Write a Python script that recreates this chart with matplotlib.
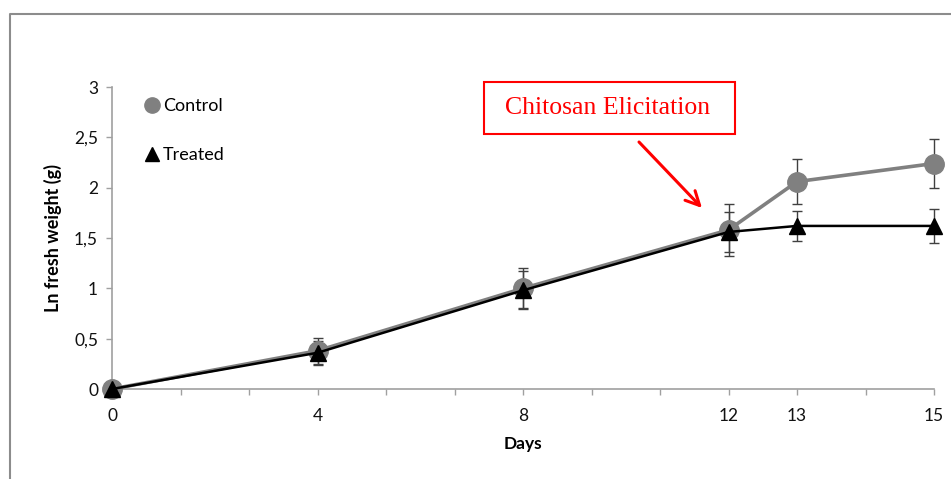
import numpy as np
import matplotlib
matplotlib.use("Agg")
import matplotlib.pyplot as plt
from matplotlib.lines import Line2D
from matplotlib.patches import Rectangle

# ---- data ----
days = [0, 4, 8, 12, 13, 15]
control = [0.0, 0.38, 1.00, 1.58, 2.06, 2.24]
control_err = [0.0, 0.13, 0.20, 0.26, 0.22, 0.24]
treated = [0.0, 0.36, 0.98, 1.56, 1.62, 1.62]
treated_err = [0.0, 0.12, 0.19, 0.20, 0.145, 0.17]
yticks = [0, 0.5, 1, 1.5, 2, 2.5, 3]
ytick_labels = ["0", "0,5", "1", "1,5", "2", "2,5", "3"]

# Axis scale used by the original chart (category-like spacing)
scale_days = [0, 12, 15]
scale_pos = [0, 9, 12]
def to_pos(d):
    return np.interp(d, scale_days, scale_pos)

tick_pos = np.arange(0, 13)
label_for = {float(to_pos(d)): str(d) for d in days}
xtick_labels = [label_for.get(float(p), "") for p in tick_pos]

plt.rcParams['font.family'] = ['Lato', 'DejaVu Sans']

W, H = 951, 479
fig = plt.figure(figsize=(W / 100, H / 100), dpi=100)
ax = fig.add_axes([112 / W, 1 - 389 / H, (934 - 112) / W, (389 - 87) / H])

xc = to_pos(days)
gray = '#808080'

ax.errorbar(xc, control, yerr=control_err, fmt='none', ecolor='#404040',
            elinewidth=1.0, capsize=3.5, capthick=1.0, zorder=3, clip_on=False)
ax.errorbar(xc, treated, yerr=treated_err, fmt='none', ecolor='#404040',
            elinewidth=1.0, capsize=3.5, capthick=1.0, zorder=3, clip_on=False)

ax.plot(xc, control, color=gray, lw=2.6, marker='o', markersize=14,
        markerfacecolor=gray, markeredgecolor=gray, zorder=4, clip_on=False,
        label='Control')
ax.plot(xc, treated, color='black', lw=1.8, marker='^', markersize=12,
        markerfacecolor='black', markeredgecolor='black', zorder=5,
        clip_on=False, label='Treated')

ax.set_xlim(0, 12)
ax.set_ylim(0, 3)
ax.set_xticks(tick_pos)
ax.set_xticklabels(xtick_labels)
ax.set_yticks(yticks)
ax.set_yticklabels(ytick_labels)

for s in ['top', 'right']:
    ax.spines[s].set_visible(False)
for s in ['left', 'bottom']:
    ax.spines[s].set_color('#a0a0a0')
    ax.spines[s].set_linewidth(1.2)

ax.tick_params(axis='both', direction='out', color='#a0a0a0', width=1.0,
               labelsize=12.5, labelcolor='#111111')
ax.tick_params(axis='x', length=4.5, pad=9)
ax.tick_params(axis='y', length=4, pad=6)

ax.set_xlabel('Days', fontsize=12.5, fontweight='bold', labelpad=9)
ax.set_ylabel('Ln fresh weight (g)', fontsize=13, fontweight='bold', labelpad=9)

# legend
handles = [Line2D([], [], linestyle='none', marker='o', markersize=11,
                  color=gray),
           Line2D([], [], linestyle='none', marker='^', markersize=9.5,
                  color='black')]
ax.legend(handles, ['Control', 'Treated'], loc='upper left',
          bbox_to_anchor=(146 / W, 1 - 98 / H), bbox_transform=fig.transFigure,
          frameon=False, fontsize=13, handlelength=0.7, handletextpad=0.25,
          labelspacing=1.85, borderpad=0, borderaxespad=0)

# annotation box
fig.add_artist(Rectangle((484 / W, 1 - 134 / H), (735 - 484) / W, (134 - 82) / H,
                         transform=fig.transFigure, facecolor='white',
                         edgecolor='red', lw=1.5, zorder=6))
fig.text(608 / W, 1 - 108 / H, 'Chitosan Elicitation', color='red',
         family=['Liberation Serif', 'DejaVu Serif'], fontsize=18.5,
         ha='center', va='center', zorder=7)
ax.annotate('', xy=(702, H - 208), xytext=(639, H - 142),
            xycoords='figure pixels', textcoords='figure pixels',
            arrowprops=dict(arrowstyle='->', color='red', lw=2.2,
                            mutation_scale=25, shrinkA=0, shrinkB=0))

# outer chart border (left and top)
fig.add_artist(Line2D([10 / W, 10 / W, 1], [0, 1 - 14 / H, 1 - 14 / H],
                      transform=fig.transFigure, color='#8c8c8c', lw=1.5))

fig.savefig('out.png', dpi=100)
